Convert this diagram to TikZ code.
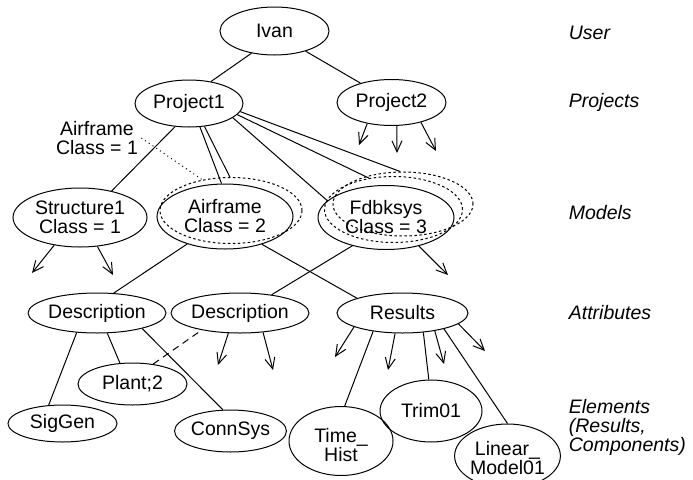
\documentclass[tikz,border=0pt]{standalone}
\usepackage{fontspec}
\setmainfont{Liberation Sans}
\usetikzlibrary{shapes.geometric,arrows.meta}
\tikzset{
  every node/.style={font=\fontsize{19.5}{19}\selectfont},
  ell/.style={draw, ellipse, inner sep=0pt, align=center},
  sz/.style 2 args={minimum width=#1pt, minimum height=#2pt},
  ghost/.style={ellipse, inner sep=0pt, draw, dash pattern=on 2.5pt off 2.5pt},
  lvl/.style={anchor=west, font=\fontsize{19.5}{19}\selectfont\itshape, align=left},
  con/.style={line width=1pt},
  arr/.style={line width=1pt, -{Straight Barb[length=11pt,width=10pt,line width=1pt]}},
  dotl/.style={line width=1pt, dash pattern=on 1pt off 3.5pt},
  dashl/.style={line width=1pt, dash pattern=on 7pt off 5pt}
}
\begin{document}
\begin{tikzpicture}[x=1pt,y=-1pt, line width=1pt]
\useasboundingbox (0,0) rectangle (693,479);
% nodes
\node[ell, sz={109}{48}] (ivan) at (274.5,31) {Ivan};
\node[ell, sz={108}{47}] (p1) at (189,103.5) {Project1};
\node[ell, sz={109}{46}] (p2) at (391.5,102.5) {Project2};
\node[ell, sz={134}{59}] (s1) at (80,217.5) {Structure1\\Class = 1};
\node[ghost, sz={142}{66}] (airg) at (231,210.5) {};
\node[ell, sz={136}{65}] (air) at (225,216.5) {Airframe\\Class = 2};
\node[ghost, sz={140}{64}] (fdc) at (403,204) {};
\node[ghost, sz={138}{66}] (fdb) at (393.5,209.5) {};
\node[ell, sz={136}{64}] (fd) at (386,217.5) {Fdbksys\\Class = 3};
\node[align=center, inner sep=3pt] (lbl) at (97,138) {Airframe\\Class = 1};
\node[ell, sz={130}{40}] (d1) at (97,313) {Description};
\node[ell, sz={130}{40}] (d2) at (240,313) {Description};
\node[ell, sz={131}{40}] (res) at (402.5,313) {Results};
\node[ell, sz={109}{37}] (sig) at (62.5,423.5) {SigGen};
\node[ell, sz={109}{42}] (plant) at (132.5,384) {Plant;2};
\node[ell, sz={109}{42}] (conn) at (230.5,431) {ConnSys};
\node[ell, sz={104}{69}] (th) at (341,441) {\rule{0pt}{22pt}Time\_\\Hist};
\node[ell, sz={102}{62}] (trim) at (431,411) {Trim01};
\node[ell, sz={103}{64}] (lin) at (507.5,456) {\rule{0pt}{18pt}Linear\_\\Model01};
% level labels
\node[lvl] (lu) at (565,33) {User};
\node[lvl] (lp) at (565,102) {Projects};
\node[lvl] (lm) at (565,213) {Models};
\node[lvl] (la) at (565,313) {Attributes};
\node[lvl] (le) at (565,427) {Elements\\(Results,\\Components)};
% free arrow ends
\coordinate (p2a) at (359,145);
\coordinate (p2b) at (397,153);
\coordinate (p2c) at (436,151);
\coordinate (s1a) at (32,273);
\coordinate (s1b) at (113,275);
\coordinate (fda) at (448,275);
\coordinate (d2a) at (218,365);
\coordinate (d2b) at (273,370);
\coordinate (ra) at (335,357);
\coordinate (rb) at (388,370);
\coordinate (rc) at (444,364);
\coordinate (rd) at (485,351);
% connectors
\draw[con] (ivan.224) -- (p1.45.6);
\draw[con] (ivan.-33) -- (p2.148);
\draw[con] (p1.239) -- (s1.40);
\draw[con] (p1.-65) -- (air.96);
\draw[con] (p1.-56) -- (airg.92);
\draw[con] (p1.-18) -- (fd.164);
\draw[con] (p1.-13) -- (fdb.128);
\draw[con] (p1.-9) -- (fdc.95);
\draw[dotl] (lbl.east) -- (airg.133);
\draw[arr] (p2.-139) -- (p2a);
\draw[arr] (p2.-77) -- (p2b);
\draw[arr] (p2.-34) -- (p2c);
\draw[arr] (s1.-133.5) -- (s1a);
\draw[arr] (s1.-59.5) -- (s1b);
\draw[con] (air.-144.5) -- (d1.50);
\draw[con] (air.-37) -- (res.162);
\draw[con] (fd.-140.5) -- (d2.30);
\draw[arr] (fd.-41) -- (fda);
\draw[con] (d1.-136) -- (sig.127);
\draw[con] (d1.-63) -- (plant.121);
\draw[con] (d1.-19.6) -- (conn.110);
\draw[dashl] (plant.44) -- (d2.-156);
\draw[arr] (d2.-120) -- (d2a);
\draw[arr] (d2.-40) -- (d2b);
\draw[arr] (res.-164) -- (ra);
\draw[arr] (res.-110) -- (rb);
\draw[arr] (res.-29) -- (rc);
\draw[arr] (res.-11) -- (rd);
\draw[con] (res.-148) -- (th.84);
\draw[con] (res.-43) -- (trim.94);
\draw[con] (res.-21) -- (lin.90);
\end{tikzpicture}
\end{document}
